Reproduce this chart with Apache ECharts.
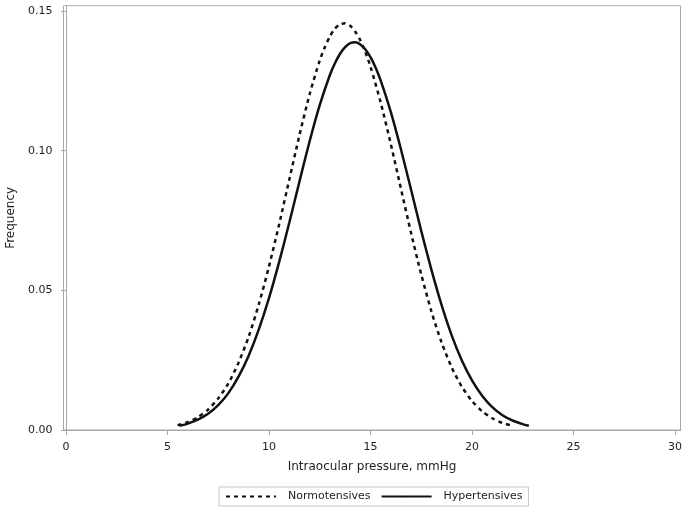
<!DOCTYPE html>
<html>
<head>
<meta charset="utf-8">
<script src="https://cdn.jsdelivr.net/npm/echarts@6/dist/echarts.min.js"></script>
<style>
  html, body { margin: 0; padding: 0; background: #fff; }
  #chart { width: 685px; height: 515px; }
</style>
</head>
<body>
<div id="chart"></div>
<script>
// values (x in mmHg, y frequency)
const normX = [5.5, 6, 6.5, 7, 7.5, 8, 8.5, 9, 9.5, 10, 10.5, 11, 11.5, 12, 12.5, 12.75, 13, 13.25, 13.5, 13.75, 14, 14.25, 14.5, 14.75, 15, 15.5, 16, 16.5, 17, 17.5, 18, 18.5, 19, 19.5, 20, 20.5, 21, 21.5, 21.9];
const normY = [0.0017, 0.0028, 0.0046, 0.0073, 0.0113, 0.0167, 0.0241, 0.0334, 0.0450, 0.0585, 0.0736, 0.0896, 0.1055, 0.1201, 0.1323, 0.1370, 0.1409, 0.1437, 0.1452, 0.1456, 0.1447, 0.1426, 0.1395, 0.1352, 0.1301, 0.1173, 0.1024, 0.0864, 0.0705, 0.0557, 0.0425, 0.0314, 0.0224, 0.0155, 0.0104, 0.0067, 0.0042, 0.0025, 0.0017];
const hyperX = [5.6, 6, 6.5, 7, 7.5, 8, 8.5, 9, 9.5, 10, 10.5, 11, 11.5, 12, 12.5, 13, 13.25, 13.5, 13.75, 14, 14.25, 14.5, 14.75, 15, 15.25, 15.5, 16, 16.5, 17, 17.5, 18, 18.5, 19, 19.5, 20, 20.5, 21, 21.5, 22, 22.5, 22.8];
const hyperY = [0.0015, 0.0023, 0.0037, 0.0058, 0.0089, 0.0132, 0.0191, 0.0266, 0.0360, 0.0472, 0.0601, 0.0742, 0.0889, 0.1033, 0.1163, 0.1271, 0.1313, 0.1347, 0.1371, 0.1385, 0.1388, 0.1380, 0.1362, 0.1335, 0.1298, 0.1252, 0.1139, 0.1005, 0.0860, 0.0713, 0.0574, 0.0448, 0.0339, 0.0249, 0.0178, 0.0123, 0.0082, 0.0053, 0.0034, 0.0021, 0.0015];
const xTicks = [0, 5, 10, 15, 20, 25, 30];
const yTicks = [0, 0.05, 0.10, 0.15];

const font = '"DejaVu Sans", "Noto Sans", sans-serif';
const gray = '#a8a8a8';

let myChart = echarts.init(document.getElementById('chart'));
myChart.setOption({
  animation: false,
  textStyle: { fontFamily: font },
  grid: {
    left: 63.5, right: 4.5, top: 5.7, bottom: 85,
    outerBoundsMode: 'none',
    containLabel: false,
    show: true, borderColor: gray, borderWidth: 1, backgroundColor: '#fff'
  },
  legend: {
    left: 219, bottom: 9,
    itemWidth: 50, itemHeight: 2, itemGap: 10,
    padding: [4, 6, 4, 6],
    borderColor: '#c8c8c8', borderWidth: 1,
    textStyle: { fontSize: 11, color: '#222', fontFamily: font, padding: [0, 0, 0, 7] },
    data: ['Normotensives', 'Hypertensives']
  },
  xAxis: {
    type: 'value',
    min: -0.12, max: 30.27,
    name: 'Intraocular pressure, mmHg',
    nameLocation: 'middle', nameGap: 31,
    nameTextStyle: { fontSize: 12, color: '#222' },
    splitLine: { show: false },
    axisLine: { show: true, lineStyle: { color: gray } },
    axisTick: { show: true, length: 5, customValues: xTicks, lineStyle: { color: gray } },
    axisLabel: { customValues: xTicks, margin: 12, fontSize: 11, color: '#222' }
  },
  yAxis: {
    type: 'value',
    min: 0, max: 0.1519,
    name: 'Frequency',
    nameLocation: 'middle', nameRotate: 90, nameGap: 46,
    nameTextStyle: { fontSize: 12, color: '#222' },
    splitLine: { show: false },
    axisLine: { show: true, lineStyle: { color: gray } },
    axisTick: { show: true, length: 5, customValues: yTicks, lineStyle: { color: gray } },
    axisLabel: {
      customValues: yTicks, margin: 11, fontSize: 11, color: '#222',
      formatter: v => v.toFixed(2)
    }
  },
  series: [
    {
      name: 'Normotensives',
      type: 'line',
      smooth: 0.25,
      symbol: 'none',
      itemStyle: { color: '#111' },
      lineStyle: { color: '#111', width: 2.5, type: [4, 4] },
      data: normX.map((x, i) => [x, normY[i]])
    },
    {
      name: 'Hypertensives',
      type: 'line',
      smooth: 0.25,
      symbol: 'none',
      itemStyle: { color: '#111' },
      lineStyle: { color: '#111', width: 2.5 },
      data: hyperX.map((x, i) => [x, hyperY[i]])
    }
  ]
});
</script>
</body>
</html>
